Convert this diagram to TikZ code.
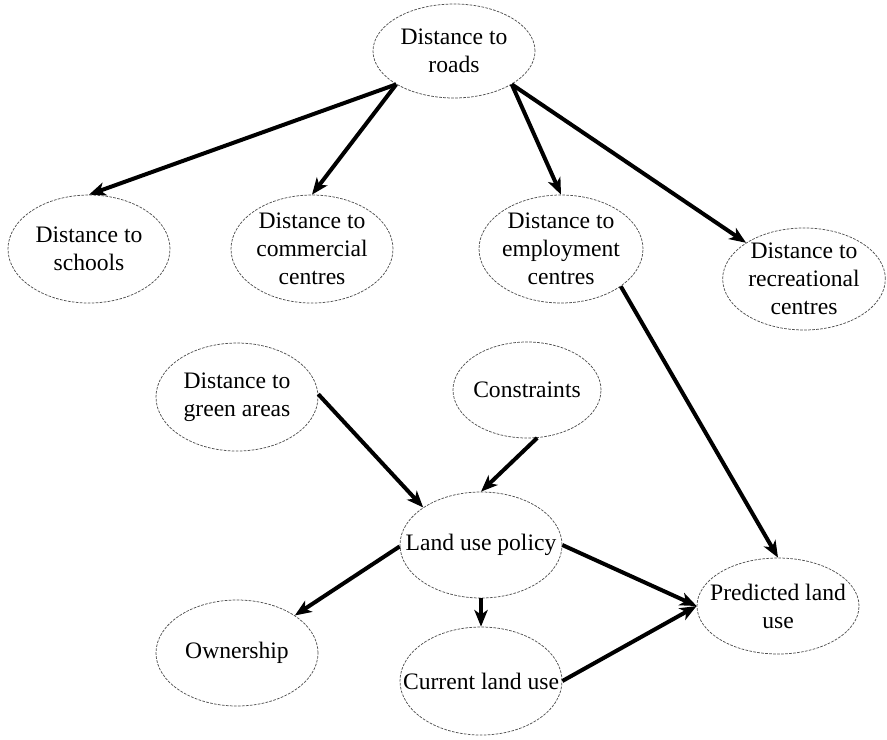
\documentclass[tikz,border=0pt]{standalone}
\usepackage{fontspec}
\setmainfont{Liberation Serif}
\usetikzlibrary{shapes.geometric,arrows.meta}
\definecolor{outl}{RGB}{80,80,80}
\tikzset{
  el/.style={ellipse, draw=outl, line width=0.55pt, dash pattern=on 2pt off 1pt, inner sep=0pt, fill=white},
  lbl/.style={align=center, inner sep=0pt, font=\fontsize{17.7}{21}\selectfont},
  arr/.style={line width=3pt, -{Stealth[length=12.5pt,width=10pt,inset=3.5pt]}},
}
\begin{document}
\begin{tikzpicture}[x=0.75pt,y=-0.75pt]
\useasboundingbox (0,0) rectangle (887,739);
% ellipses
\node[el, minimum width=121.5pt, minimum height=70.5pt] (roads) at (454,51) {};
\node[el, minimum width=121.5pt, minimum height=81pt] (schools) at (89,249) {};
\node[el, minimum width=121.5pt, minimum height=81pt] (commercial) at (312,249) {};
\node[el, minimum width=123pt, minimum height=81pt] (employment) at (561,249) {};
\node[el, minimum width=122pt, minimum height=76.5pt] (recreational) at (804,279) {};
\node[el, minimum width=121.5pt, minimum height=81pt] (green) at (237,397) {};
\node[el, minimum width=111pt, minimum height=72pt] (constraints) at (527,390) {};
\node[el, minimum width=121.5pt, minimum height=79.5pt] (policy) at (481,545) {};
\node[el, minimum width=121.5pt, minimum height=79.5pt] (ownership) at (237,653) {};
\node[el, minimum width=121.5pt, minimum height=81pt] (current) at (481,681) {};
\node[el, minimum width=121.5pt, minimum height=72pt] (predicted) at (778,606) {};
% labels
\node[lbl] (roads-t) at (roads) {Distance to\\roads};
\node[lbl] (schools-t) at (schools) {Distance to\\schools};
\node[lbl] (commercial-t) at (commercial) {Distance to\\commercial\\centres};
\node[lbl] (employment-t) at (employment) {Distance to\\employment\\centres};
\node[lbl] (recreational-t) at (recreational) {Distance to\\recreational\\centres};
\node[lbl] (green-t) at (green) {Distance to\\green areas};
\node[lbl] (constraints-t) at (constraints) {Constraints};
\node[lbl] (policy-t) at (policy) {Land use policy};
\node[lbl] (ownership-t) at (ownership) {Ownership};
\node[lbl] (current-t) at (current) {Current land use};
\node[lbl] (predicted-t) at (predicted) {Predicted land\\use};
% arrows
\draw[arr] (roads.210) -- (schools.north);
\draw[arr] (roads.210) -- (commercial.north);
\draw[arr] (roads.330) -- (employment.north);
\draw[arr] (roads.330) -- (recreational.148);
\draw[arr] (employment.328) -- (predicted.north);
\draw[arr] (green.2) -- (policy.147);
\draw[arr] (constraints.282) -- (policy.north);
\draw[arr] (policy.181) -- (ownership.33);
\draw[arr] (policy.south) -- (current.north);
\draw[arr] (policy.east) -- (predicted.west);
\draw[arr] (current.east) -- (predicted.west);
\end{tikzpicture}
\end{document}
